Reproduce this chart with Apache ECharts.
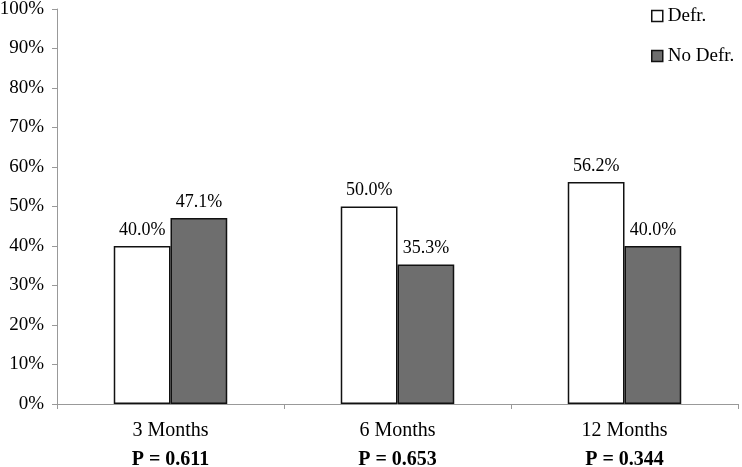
<!DOCTYPE html>
<html><head><meta charset="utf-8">
<script src="https://cdn.jsdelivr.net/npm/echarts@6/dist/echarts.min.js"></script>
<style>html,body{margin:0;padding:0;background:#fff}#c{width:742px;height:467px}</style>
</head><body><div id="c"></div>
<script>
const categories = ['3 Months', '6 Months', '12 Months'];
const pValues = ['P = 0.611', 'P = 0.653', 'P = 0.344'];
const defr = [40.0, 50.0, 56.2];
const noDefr = [47.1, 35.3, 40.0];
const font = '"Liberation Serif", "Times New Roman", serif';
const chart = echarts.init(document.getElementById('c'));
chart.setOption({
  animation: false,
  textStyle: { fontFamily: font },
  grid: { left: 57, right: 4, top: 9, bottom: 63, containLabel: false, outerBoundsMode: 'none' },
  legend: {
    orient: 'vertical', left: 646, top: 1, itemWidth: 11, itemHeight: 11, itemGap: 20,
    textStyle: { fontFamily: font, fontSize: 19, color: '#000', lineHeight: 20 },
    data: [
      { name: 'Defr.', icon: 'rect', itemStyle: { color: '#fff', borderColor: '#111', borderWidth: 1.5 } },
      { name: 'No Defr.', icon: 'rect', itemStyle: { color: '#6e6e6e', borderColor: '#111', borderWidth: 1.5 } }
    ]
  },
  xAxis: {
    type: 'category', data: categories,
    axisLine: { lineStyle: { color: '#999', width: 1 } },
    axisTick: { show: true, length: 5, lineStyle: { color: '#999' } },
    axisLabel: {
      margin: 12, interval: 0,
      formatter: (v, i) => v + '\n{p|' + pValues[i] + '}',
      fontFamily: font, fontSize: 20, color: '#000', lineHeight: 29,
      rich: { p: { fontFamily: font, fontSize: 20, fontWeight: 'bold', color: '#000', lineHeight: 29 } }
    }
  },
  yAxis: {
    type: 'value', min: 0, max: 100, interval: 10,
    axisLine: { show: true, lineStyle: { color: '#999', width: 1 } },
    axisTick: { show: true, length: 5, lineStyle: { color: '#999' } },
    splitLine: { show: false },
    axisLabel: { formatter: '{value}%', fontFamily: font, fontSize: 19, color: '#000', margin: 13 }
  },
  series: [
    {
      name: 'Defr.', type: 'bar', data: defr, barGap: '0%', barCategoryGap: '50%',
      itemStyle: { color: '#fff', borderColor: '#111', borderWidth: 1.5 },
      label: { show: true, position: 'top', distance: 7, formatter: p => p.value.toFixed(1) + '%', fontFamily: font, fontSize: 18, color: '#000' }
    },
    {
      name: 'No Defr.', type: 'bar', data: noDefr,
      itemStyle: { color: '#6e6e6e', borderColor: '#111', borderWidth: 1.5 },
      label: { show: true, position: 'top', distance: 7, formatter: p => p.value.toFixed(1) + '%', fontFamily: font, fontSize: 18, color: '#000' }
    }
  ]
});
</script></body></html>
